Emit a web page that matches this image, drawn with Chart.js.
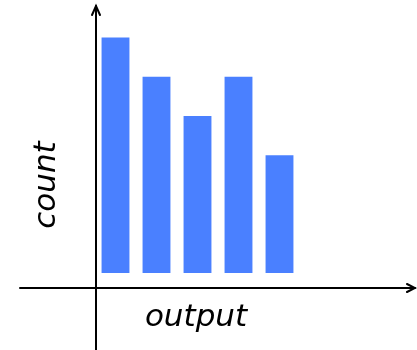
<!DOCTYPE html>
<html>
<head>
<meta charset="utf-8">
<script src="https://cdn.jsdelivr.net/npm/chart.js"></script>
<style>
  html, body { margin: 0; padding: 0; background: #fff; }
  #wrap { width: 417px; height: 350px; }
</style>
</head>
<body>
<div id="wrap"><canvas id="myChart"></canvas></div>
<script>
const categories = ['1', '2', '3', '4', '5']
const counts = [6, 5, 4, 5, 3]
const xTitle = 'output'
const yTitle = 'count'

// hand-drawn style axes with arrow heads, drawn around the plot area
const arrowAxesPlugin = {
  id: 'arrowAxes',
  afterDraw: (chart) => {
    const { ctx, chartArea } = chart
    const yAxisX = chartArea.left + 1
    const xAxisY = chartArea.bottom + 15
    ctx.save()
    ctx.strokeStyle = '#000'
    ctx.lineWidth = 2
    ctx.lineCap = 'round'
    // y axis
    ctx.beginPath()
    ctx.moveTo(yAxisX, 350)
    ctx.lineTo(yAxisX, 6)
    ctx.stroke()
    ctx.beginPath()
    ctx.moveTo(yAxisX - 4, 15)
    ctx.lineTo(yAxisX, 6)
    ctx.lineTo(yAxisX + 4, 15)
    ctx.stroke()
    // x axis
    ctx.beginPath()
    ctx.moveTo(20, xAxisY)
    ctx.lineTo(415, xAxisY)
    ctx.stroke()
    ctx.beginPath()
    ctx.moveTo(407, xAxisY - 4)
    ctx.lineTo(415, xAxisY)
    ctx.lineTo(407, xAxisY + 4)
    ctx.stroke()
    // axis titles
    ctx.fillStyle = '#000'
    ctx.font = 'italic 31px "DejaVu Sans"'
    ctx.textAlign = 'center'
    ctx.textBaseline = 'middle'
    ctx.fillText(xTitle, 196, 318)
    ctx.translate(47, 185)
    ctx.rotate(-Math.PI / 2)
    ctx.fillText(yTitle, 0, 0)
    ctx.restore()
  }
}

const config = {
  type: 'bar',
  data: {
    labels: categories,
    datasets: [{
      data: counts,
      backgroundColor: '#4a80ff',
      borderWidth: 0,
      barPercentage: 0.68,
      categoryPercentage: 1
    }]
  },
  options: {
    responsive: false,
    animation: false,
    layout: { padding: { left: 95, right: 117, top: 18, bottom: 77 } },
    plugins: {
      legend: { display: false },
      tooltip: { enabled: false }
    },
    scales: {
      x: { display: false },
      y: { display: false, min: 0, max: 6.5 }
    }
  },
  plugins: [arrowAxesPlugin]
}

const canvas = document.getElementById('myChart')
canvas.width = 417
canvas.height = 350
new Chart(canvas.getContext('2d'), config)
</script>
</body>
</html>
